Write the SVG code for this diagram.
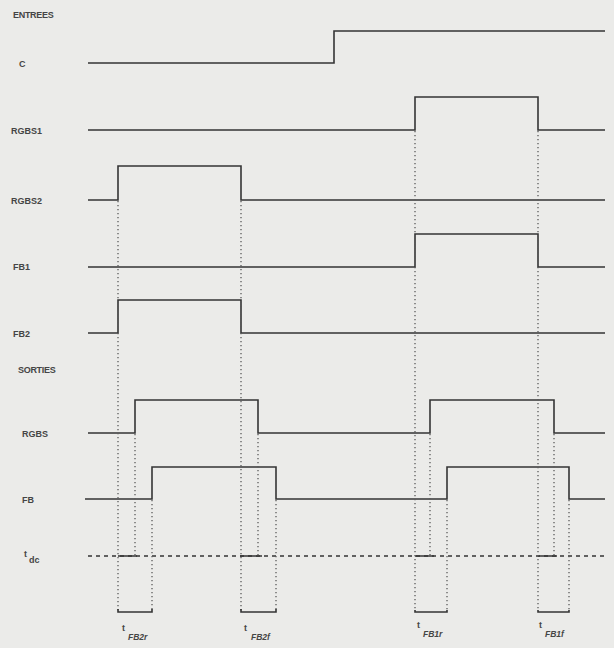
<svg xmlns="http://www.w3.org/2000/svg" width="614" height="648" viewBox="0 0 614 648">
<style>
.bg{fill:#ebebe9}
.w{fill:none;stroke:#353535;stroke-width:1.6;stroke-linejoin:miter}
.dot{fill:none;stroke:#5a5a5a;stroke-width:1.3;stroke-dasharray:1.3 2.7}
.dash{fill:none;stroke:#353535;stroke-width:1.5;stroke-dasharray:4 4}
.lbl{font-family:"Liberation Sans",Arial,sans-serif;font-size:9px;font-weight:bold;fill:#454545}
.sub{font-family:"Liberation Sans",Arial,sans-serif;font-size:8.5px;font-weight:bold;font-style:italic;fill:#454545}
</style>
<rect class="bg" x="0" y="0" width="614" height="648"/>
<g id="titles">
<text class="lbl" x="13" y="18" letter-spacing="-0.3">ENTREES</text>
<text class="lbl" x="18" y="373" letter-spacing="-0.3">SORTIES</text>
</g>
<g id="C">
<text class="lbl" x="19" y="67">C</text>
<path class="w" d="M88,63 H334 V31 H605"/>
</g>
<g id="RGBS1">
<text class="lbl" x="11" y="134">RGBS1</text>
<path class="w" d="M88,130 H415 V97 H538 V130 H605"/>
</g>
<g id="RGBS2">
<text class="lbl" x="11" y="204">RGBS2</text>
<path class="w" d="M88,200 H118 V166 H241 V200 H605"/>
</g>
<g id="FB1">
<text class="lbl" x="13" y="270">FB1</text>
<path class="w" d="M88,267 H415 V234 H538 V267 H605"/>
</g>
<g id="FB2">
<text class="lbl" x="13" y="337">FB2</text>
<path class="w" d="M88,333 H118 V300 H241 V333 H605"/>
</g>
<g id="RGBS">
<text class="lbl" x="22" y="437">RGBS</text>
<path class="w" d="M88,433 H135 V400 H258 V433 H430 V400 H554 V433 H605"/>
</g>
<g id="FB">
<text class="lbl" x="22" y="503">FB</text>
<path class="w" d="M85,499 H152 V467 H276 V499 H447 V467 H569 V499 H605"/>
</g>
<g id="tdc">
<text class="lbl" x="24" y="557" font-size="7">t</text>
<text class="lbl" x="29" y="563">dc</text>
<path class="dash" d="M88,556 H605"/>
<path class="w" d="M118,556 H137 M240,556 H262 M415,556 H434 M538,556 H557"/>
</g>
<g id="connectors">
<path class="dot" d="M118,201 V611 M241,201 V611 M415,131 V611 M538,131 V611"/>
<path class="dot" d="M135,434 V556 M258,434 V556 M430,434 V556 M554,434 V556"/>
<path class="dot" d="M152,500 V611 M276,500 V611 M447,500 V611 M569,500 V611"/>
</g>
<g id="brackets">
<path class="w" d="M118,609 V612 H152 V609"/>
<path class="w" d="M241,609 V612 H276 V609"/>
<path class="w" d="M415,610 V612 H447 V610"/>
<path class="w" d="M538,610 V612 H569 V610"/>
</g>
<g id="tFB2r">
<text class="lbl" x="122" y="631" font-size="7">t</text>
<text class="sub" x="128" y="640">FB2r</text>
</g>
<g id="tFB2f">
<text class="lbl" x="244" y="631" font-size="7">t</text>
<text class="sub" x="251" y="640">FB2f</text>
</g>
<g id="tFB1r">
<text class="lbl" x="417" y="628" font-size="7">t</text>
<text class="sub" x="423" y="637">FB1r</text>
</g>
<g id="tFB1f">
<text class="lbl" x="539" y="628" font-size="7">t</text>
<text class="sub" x="545" y="637">FB1f</text>
</g>
</svg>
